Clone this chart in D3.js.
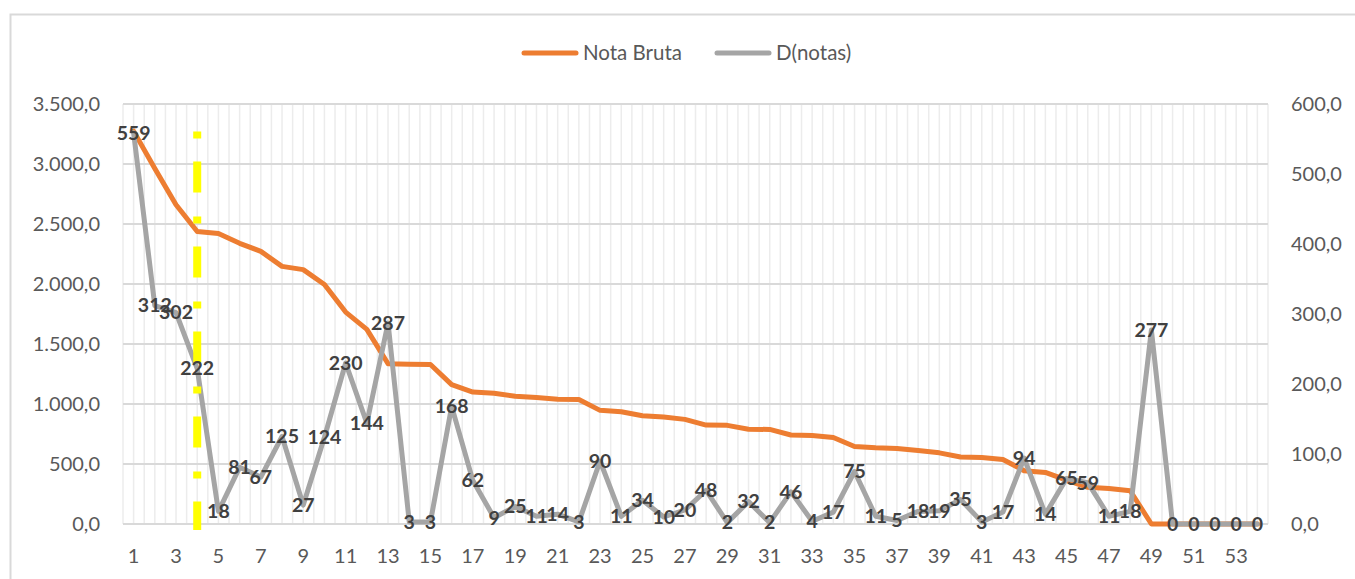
<!DOCTYPE html>
<html>
<head>
<meta charset="utf-8">
<script src="https://cdn.jsdelivr.net/npm/d3@7"></script>
<style>
    body { margin: 0; background: #ffffff; }
    svg { display: block; font-family: Lato, "Open Sans", sans-serif; }
    .tick-label { fill: #595959; font-size: 20px; }
    .legend-label { fill: #595959; font-size: 20.5px; }
    .data-label { fill: #404040; font-size: 19.5px; font-weight: bold; }
</style>
</head>
<body>
<div id="chart"></div>
<script>
// Chart data
const categories = d3.range(1, 55);
const notaBruta = [3274, 2962, 2660, 2438, 2420, 2339, 2272, 2147, 2120, 1996,
    1766, 1622, 1335, 1332, 1329, 1161, 1099, 1090, 1065, 1054,
    1040, 1037, 947, 936, 902, 892, 872, 824, 822, 790,
    788, 742, 738, 721, 646, 635, 630, 612, 593, 558,
    555, 538, 444, 430, 365, 306, 295, 277, 0, 0,
    0, 0, 0, 0];
const dNotas = [559, 312, 302, 222, 18, 81, 67, 125, 27, 124,
    230, 144, 287, 3, 3, 168, 62, 9, 25, 11,
    14, 3, 90, 11, 34, 10, 20, 48, 2, 32,
    2, 46, 4, 17, 75, 11, 5, 18, 19, 35,
    3, 17, 94, 14, 65, 59, 11, 18, 277, 0,
    0, 0, 0, 0];
const leftTicks = d3.range(0, 3501, 500);
const rightTicks = d3.range(0, 601, 100);
const xTickLabels = categories.filter(c => c % 2 === 1);
const seriesNames = ['Nota Bruta', 'D(notas)'];
// yellow marker: category and extent on the left axis
const markerCategory = 4;
const markerRange = [3270, -50];

// Layout
const WIDTH = 1355;
const HEIGHT = 579;
const PLOT_LEFT = 123;
const PLOT_RIGHT = 1268;
const PLOT_TOP = 104;
const PLOT_BOTTOM = 524;
const ORANGE = '#ED7D31';
const GRAY = '#A5A5A5';

const svg = d3.select('#chart')
    .append('svg')
    .attr('width', WIDTH)
    .attr('height', HEIGHT);

// Chart border
svg.append('rect')
    .attr('x', 10.5)
    .attr('y', 14.5)
    .attr('width', 1400)
    .attr('height', 700)
    .attr('fill', 'none')
    .attr('stroke', '#d9d9d9')
    .attr('stroke-width', 2);

// Scales
const x = d3.scaleBand()
    .domain(categories)
    .range([PLOT_LEFT, PLOT_RIGHT]);
const cx = d => x(d) + x.bandwidth() / 2;
const yLeft = d3.scaleLinear().domain([0, 3500]).range([PLOT_BOTTOM, PLOT_TOP]);
const yRight = d3.scaleLinear().domain([0, 600]).range([PLOT_BOTTOM, PLOT_TOP]);

// Vertical gridlines (category boundaries and centres)
const vLines = [];
categories.forEach(c => {
    vLines.push(x(c));
    vLines.push(cx(c));
});
vLines.push(PLOT_RIGHT);
svg.append('g')
    .selectAll('line')
    .data(vLines)
    .join('line')
    .attr('x1', d => d)
    .attr('x2', d => d)
    .attr('y1', PLOT_TOP)
    .attr('y2', PLOT_BOTTOM)
    .attr('stroke', '#ececec')
    .attr('stroke-width', 1.5);

// Horizontal gridlines
svg.append('g')
    .selectAll('line')
    .data(leftTicks)
    .join('line')
    .attr('x1', PLOT_LEFT)
    .attr('x2', PLOT_RIGHT)
    .attr('y1', d => yLeft(d))
    .attr('y2', d => yLeft(d))
    .attr('stroke', '#d9d9d9')
    .attr('stroke-width', 2);

// Axis labels
const fmt = v => {
    const s = d3.format(',.1f')(v);
    return s.replace(/,/g, '#').replace('.', ',').replace(/#/g, '.');
};
svg.append('g')
    .selectAll('text')
    .data(leftTicks)
    .join('text')
    .attr('class', 'tick-label')
    .attr('x', 100)
    .attr('y', d => yLeft(d))
    .attr('dy', '0.35em')
    .attr('text-anchor', 'end')
    .text(fmt);

svg.append('g')
    .selectAll('text')
    .data(rightTicks)
    .join('text')
    .attr('class', 'tick-label')
    .attr('x', 1291)
    .attr('y', d => yRight(d))
    .attr('dy', '0.35em')
    .attr('text-anchor', 'start')
    .text(fmt);

svg.append('g')
    .selectAll('text')
    .data(xTickLabels)
    .join('text')
    .attr('class', 'tick-label')
    .attr('x', d => cx(d))
    .attr('y', 556)
    .attr('dy', '0.35em')
    .attr('text-anchor', 'middle')
    .text(d => d);

// Series lines
const lineLeft = d3.line()
    .x((d, i) => cx(categories[i]))
    .y(d => yLeft(d));
const lineRight = d3.line()
    .x((d, i) => cx(categories[i]))
    .y(d => yRight(d));

svg.append('path')
    .datum(notaBruta)
    .attr('d', lineLeft)
    .attr('fill', 'none')
    .attr('stroke', ORANGE)
    .attr('stroke-width', 5)
    .attr('stroke-linejoin', 'round')
    .attr('stroke-linecap', 'round');

svg.append('path')
    .datum(dNotas)
    .attr('d', lineRight)
    .attr('fill', 'none')
    .attr('stroke', GRAY)
    .attr('stroke-width', 5)
    .attr('stroke-linejoin', 'round')
    .attr('stroke-linecap', 'round');

// Yellow dash-dot marker
svg.append('line')
    .attr('x1', cx(markerCategory))
    .attr('x2', cx(markerCategory))
    .attr('y1', yLeft(markerRange[0]))
    .attr('y2', yLeft(markerRange[1]))
    .attr('stroke', '#FFFF00')
    .attr('stroke-width', 8)
    .attr('stroke-dasharray', '7,23,31,24');

// Data labels for D(notas)
svg.append('g')
    .selectAll('text')
    .data(dNotas)
    .join('text')
    .attr('class', 'data-label')
    .attr('x', (d, i) => cx(categories[i]))
    .attr('y', d => yRight(d))
    .attr('dy', '0.35em')
    .attr('text-anchor', 'middle')
    .text(d => d);

// Legend
const legend = svg.append('g');
const legendItems = [
    { name: seriesNames[0], color: ORANGE, x: 522 },
    { name: seriesNames[1], color: GRAY, x: 715 }
];
legendItems.forEach(item => {
    legend.append('line')
        .attr('x1', item.x + 2)
        .attr('x2', item.x + 54)
        .attr('y1', 53)
        .attr('y2', 53)
        .attr('stroke', item.color)
        .attr('stroke-width', 5)
        .attr('stroke-linecap', 'round');
    legend.append('text')
        .attr('class', 'legend-label')
        .attr('x', item.x + 61)
        .attr('y', 53)
        .attr('dy', '0.35em')
        .text(item.name);
});
</script>
</body>
</html>
